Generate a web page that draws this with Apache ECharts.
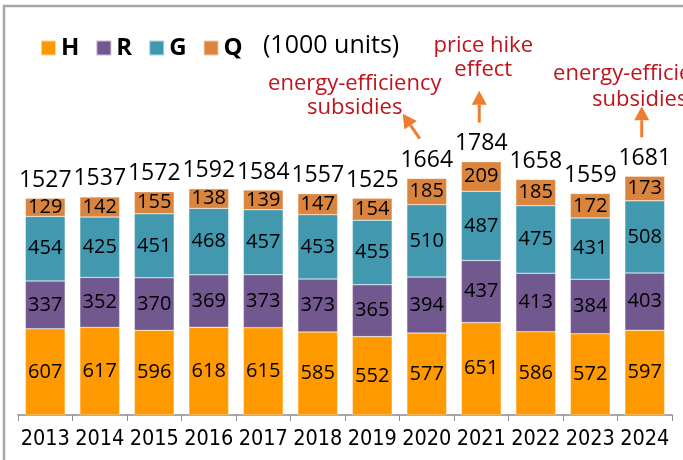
<!DOCTYPE html>
<html lang="en">
  <head>
    <meta charset="UTF-8" />
    <title>H R G Q</title>
    <style>
      html, body { margin: 0; padding: 0; width: 100%; height: 100%; background: #fff; }
      #main { width: 683px; height: 460px; }
    </style>
    <script src="https://cdn.jsdelivr.net/npm/echarts@6/dist/echarts.min.js"></script>
  </head>
  <body>
    <div id="main"></div>
    <script>
      const years = ['2013', '2014', '2015', '2016', '2017', '2018', '2019', '2020', '2021', '2022', '2023', '2024']
      const H = [607, 617, 596, 618, 615, 585, 552, 577, 651, 586, 572, 597]
      const R = [337, 352, 370, 369, 373, 373, 365, 394, 437, 413, 384, 403]
      const G = [454, 425, 451, 468, 457, 453, 455, 510, 487, 475, 431, 508]
      const Q = [129, 142, 155, 138, 139, 147, 154, 185, 209, 185, 172, 173]
      const totals = [1527, 1537, 1572, 1592, 1584, 1557, 1525, 1664, 1784, 1658, 1559, 1681]
      const unitNote = '(1000 units)'
      // notes pinned to a year's total
      const notes = [
        { year: '2020', text: 'energy-efficiency\nsubsidies' },
        { year: '2021', text: 'price hike\neffect' },
        { year: '2024', text: 'energy-efficiency\nsubsidies' }
      ]

      const font = '"Open Sans", "Noto Sans", sans-serif'
      const chart = echarts.init(document.getElementById('main'))

      function stackSeries(name, data, color) {
        return {
          name,
          type: 'bar',
          stack: 'all',
          barCategoryGap: '27%',
          data,
          itemStyle: { color, borderColor: 'rgba(255,255,255,0.6)', borderWidth: 0.5 },
          label: {
            show: true,
            position: 'inside',
            color: '#000',
            fontSize: 20,
            fontFamily: font
          }
        }
      }

      chart.setOption({
        animation: false,
        legend: {
          data: ['H', 'R', 'G', 'Q'],
          left: 35,
          top: 31,
          itemWidth: 15,
          itemHeight: 15,
          itemGap: 16,
          icon: 'rect',
          textStyle: { fontSize: 24, fontWeight: 'bold', color: '#000', fontFamily: font }
        },
        grid: { left: 18, right: 11, top: 131, bottom: 45 },
        xAxis: {
          type: 'category',
          data: years,
          axisLine: { lineStyle: { color: '#8c8c8c', width: 1.5 } },
          axisTick: { show: true, length: 6, lineStyle: { color: '#8c8c8c' } },
          axisLabel: {
            interval: 0,
            color: '#000',
            fontSize: 21.5,
            margin: 13,
            fontFamily: '"DejaVu Sans Condensed", sans-serif'
          }
        },
        yAxis: {
          type: 'value',
          min: 0,
          max: 2000,
          show: false,
          splitLine: { show: false }
        },
        series: [
          stackSeries('H', H, '#ff9900'),
          stackSeries('R', R, '#71588f'),
          stackSeries('G', G, '#4198af'),
          stackSeries('Q', Q, '#db843d'),
          {
            name: 'total',
            type: 'line',
            data: totals,
            symbol: 'circle',
            symbolSize: 1,
            itemStyle: { color: 'rgba(0,0,0,0)' },
            lineStyle: { opacity: 0 },
            silent: true,
            label: {
              show: true,
              position: 'top',
              distance: 6,
              color: '#000',
              fontSize: 23,
              fontFamily: font
            }
          }
        ]
      })

      // frame, unit note and the red notes with arrows
      const arrowColor = '#ed7d31'
      const graphics = [
        {
          type: 'rect',
          shape: { x: 4, y: 6, width: 720, height: 520 },
          style: { fill: null, stroke: '#a6a6a6', lineWidth: 2.5 },
          silent: true
        },
        {
          type: 'text',
          x: 263,
          y: 46,
          style: { text: unitNote, fill: '#000', font: '25px ' + font, verticalAlign: 'middle' }
        }
      ]

      function arrow(x1, y1, x2, y2) {
        const ang = Math.atan2(y2 - y1, x2 - x1)
        const len = 14, half = 7.5
        const bx = x2 - Math.cos(ang) * len, by = y2 - Math.sin(ang) * len
        const nx = -Math.sin(ang) * half, ny = Math.cos(ang) * half
        graphics.push({
          type: 'line',
          shape: { x1, y1, x2: bx, y2: by },
          style: { stroke: arrowColor, lineWidth: 3 }
        })
        graphics.push({
          type: 'polygon',
          shape: { points: [[x2, y2], [bx + nx, by + ny], [bx - nx, by - ny]] },
          style: { fill: arrowColor }
        })
      }

      notes.forEach((n, i) => {
        const idx = years.indexOf(n.year)
        const p = chart.convertToPixel({ gridIndex: 0 }, [idx, totals[idx]])
        let tail, tip, textX, textY
        if (i === 0) {
          tail = [p[0] - 7, p[1] - 40]
          tip = [p[0] - 24, p[1] - 65]
          textX = p[0] - 72
          textY = p[1] - 83
        } else if (i === 1) {
          tail = [p[0] - 2, p[1] - 39]
          tip = [p[0] - 2, p[1] - 71]
          textX = p[0] + 2
          textY = p[1] - 104
        } else {
          tail = [p[0] - 3, p[1] - 39]
          tip = [p[0] - 3, p[1] - 70]
          textX = p[0] - 5
          textY = p[1] - 90
        }
        arrow(tail[0], tail[1], tip[0], tip[1])
        graphics.push({
          type: 'text',
          x: textX,
          y: textY,
          style: {
            text: n.text,
            fill: '#c0141c',
            font: '22px ' + font,
            align: 'center',
            verticalAlign: 'middle',
            lineHeight: i === 2 ? 26 : 24
          }
        })
      })

      chart.setOption({ graphic: graphics })
    </script>
  </body>
</html>
